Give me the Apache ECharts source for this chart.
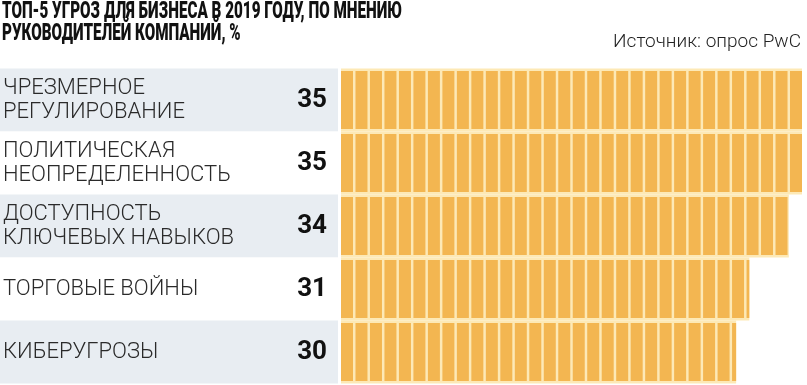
<!DOCTYPE html>
<html><head><meta charset="utf-8">
<script src="https://cdn.jsdelivr.net/npm/echarts@6/dist/echarts.min.js"></script>
<style>html,body{margin:0;padding:0;background:#fff}#c{width:807px;height:385px}</style>
</head><body><div id="c"></div>
<script>
const titleLines = ['ТОП-5 УГРОЗ ДЛЯ БИЗНЕСА В 2019 ГОДУ, ПО МНЕНИЮ', 'РУКОВОДИТЕЛЕЙ КОМПАНИЙ, %'];
const sourceText = 'Источник: опрос PwC';
const categories = ['ЧРЕЗМЕРНОЕ\nРЕГУЛИРОВАНИЕ', 'ПОЛИТИЧЕСКАЯ\nНЕОПРЕДЕЛЕННОСТЬ', 'ДОСТУПНОСТЬ\nКЛЮЧЕВЫХ НАВЫКОВ', 'ТОРГОВЫЕ ВОЙНЫ', 'КИБЕРУГРОЗЫ'];
const values = [35, 35, 34, 31, 30];
const axisMax = 35;

const titleFont = '900 23px Roboto';
const ctx = document.createElement('canvas').getContext('2d');
ctx.font = titleFont;
const titleScale = 400 / ctx.measureText(titleLines[0]).width;

const chart = echarts.init(document.getElementById('c'), null, {renderer: 'canvas'});
chart.setOption({
  animation: false,
  title: [
    {text: sourceText, right: 1, top: 28,
     textStyle: {fontFamily: 'Roboto', fontWeight: 300, fontSize: 19, color: '#222'}}
  ],
  graphic: titleLines.map((t, i) => ({
    type: 'text', left: 2, top: 1 + i * 22, scaleX: titleScale,
    style: {text: t, font: titleFont, fill: '#111'}
  })),
  grid: [
    {left: 341, right: 5, top: 68.5, height: 315},
    {left: 0, width: 338, top: 68.5, height: 315}
  ],
  xAxis: [
    {gridIndex: 0, type: 'value', min: 0, max: axisMax, show: false},
    {gridIndex: 1, type: 'value', min: 0, max: 1, show: false}
  ],
  yAxis: [
    {gridIndex: 0, type: 'category', inverse: true, data: categories,
     axisLine: {show: false}, axisTick: {show: false},
     axisLabel: {align: 'left', margin: 338, fontFamily: 'Roboto', fontWeight: 300, fontSize: 22, lineHeight: 24, color: '#2a2a2a'}},
    {gridIndex: 1, type: 'category', inverse: true, data: categories,
     axisLine: {show: false}, axisTick: {show: false}, axisLabel: {show: false},
     splitArea: {show: true, areaStyle: {color: ['#e8edf2', '#ffffff']}}}
  ],
  series: [
    {type: 'bar', xAxisIndex: 0, yAxisIndex: 0, data: values, barWidth: 63,
     itemStyle: {color: '#fde9b6'}, silent: true,
     label: {show: true, position: 'left', distance: 14, formatter: '{c}',
       fontFamily: 'Roboto', fontWeight: 'bold', fontSize: 26, color: '#111'}},
    {type: 'pictorialBar', xAxisIndex: 0, yAxisIndex: 0, data: values,
     symbol: 'rect', symbolRepeat: 'fixed', symbolClip: true, symbolBoundingData: axisMax,
     symbolSize: [12, 58], symbolMargin: 1.4, symbolPosition: 'start', barGap: '-100%',
     itemStyle: {color: '#f3b651'}, z: 3}
  ]
});
</script></body></html>
